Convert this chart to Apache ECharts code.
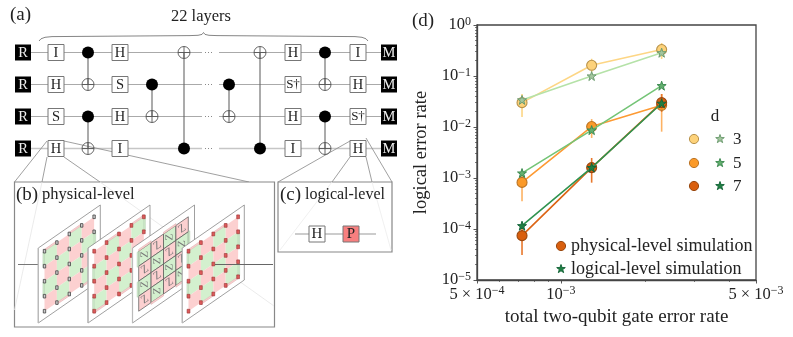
<!DOCTYPE html>
<html>
<head>
<meta charset="utf-8">
<script src="https://cdn.jsdelivr.net/npm/echarts@6/dist/echarts.min.js"></script>
<style>html,body{margin:0;padding:0;background:#fff}#c{width:793px;height:337px}</style>
</head>
<body>
<div id="c"></div>
<script>
// ---------- data: panel (d) ----------
const gateError = [7.25e-4, 1.288e-3, 2.295e-3];
const physD3 = [0.030, 0.162, 0.33];
const physD5 = [8.2e-4, 0.0102, 0.0266];
const physD7 = [7.4e-5, 1.6e-3, 0.030];
const logicD3 = [0.034, 0.100, 0.286];
const logicD5 = [1.25e-3, 0.0087, 0.0646];
const logicD7 = [1.16e-4, 1.6e-3, 0.0292];
const errLowD3 = [0.0157, 0.12, 0.215];
const errHighD3 = [0.0444, 0.218, 0.444];
const errLowD5 = [3.5e-4, 0.0061, 0.0081];
const errHighD5 = [1.31e-3, 0.0143, 0.0444];
const errLowD7 = [3.1e-5, 8.1e-4, 0.0197];
const errHighD7 = [1.2e-4, 2.47e-3, 0.0444];
const xTickValues = [5e-4, 1e-3, 5e-3];
const xTickLabels = ['{n|5 × 10}{s|−4}', '{n|10}{s|−3}', '{n|5 × 10}{s|−3}'];
const xMinorValues = [6e-4, 7e-4, 8e-4, 9e-4, 2e-3, 3e-3, 4e-3];
const yTickValues = [1e-5, 1e-4, 1e-3, 1e-2, 1e-1, 1];
const yTickLabels = ['{n|10}{s|−5}', '{n|10}{s|−4}', '{n|10}{s|−3}', '{n|10}{s|−2}', '{n|10}{s|−1}', '{n|10}{s|0}'];
const yMinorValues = [];
[1e-5, 1e-4, 1e-3, 1e-2, 1e-1].forEach(d => [2, 3, 4, 5, 6, 7, 8, 9].forEach(m => yMinorValues.push(d * m)));
const distances = ['3', '5', '7'];
const legendPhysical = 'physical-level simulation';
const legendLogical = 'logical-level simulation';

// ---------- data: circuit (a) ----------
const firstGates = ['I', 'H', 'S', 'H'];
const secondGates = ['H', 'S', 'H', 'I'];
const thirdGates = ['H', 'S†', 'H', 'I'];
const lastGates = ['I', 'H', 'S†', 'H'];

// ---------- styles ----------
const FONT = '"Liberation Serif", serif';
const STAR = 'path://M50 0L61.8 34.5L97.6 34.5L68.8 56L79.4 90.5L50 69L20.6 90.5L31.2 56L2.4 34.5L38.2 34.5Z';
const STAR_PTS = [[50,0],[61.8,34.5],[97.6,34.5],[68.8,56],[79.4,90.5],[50,69],[20.6,90.5],[31.2,56],[2.4,34.5],[38.2,34.5]];
const physStyle = [
  {line: '#fdd685', fill: '#fdd27a', edge: '#b8924a', err: '#fdd685'},
  {line: '#fd9a33', fill: '#fb9a29', edge: '#bb7425', err: '#fdb263'},
  {line: '#dc6414', fill: '#d95f0e', edge: '#99480f', err: '#e8782c'}
];
const logicStyle = [
  {line: '#b5e2a8', fill: '#a3c69e', edge: '#6d9c70'},
  {line: '#74c476', fill: '#63b06e', edge: '#3c8a50'},
  {line: '#2f9350', fill: '#1f8042', edge: '#16663a'}
];
const physData = [physD3, physD5, physD7];
const logicData = [logicD3, logicD5, logicD7];
const lowData = [errLowD3, errLowD5, errLowD7];
const highData = [errHighD3, errHighD5, errHighD7];

function pairs(ys) { return gateError.map((x, i) => [x, ys[i]]); }

const series = [];
physData.forEach((ys, k) => {
  series.push({
    type: 'custom', z: 2, silent: true,
    data: gateError.map((x, i) => [x, lowData[k][i], highData[k][i]]),
    encode: {x: 0, y: [1, 2]},
    renderItem: (p, api) => {
      const a = api.coord([api.value(0), api.value(1)]);
      const b = api.coord([api.value(0), api.value(2)]);
      return {type: 'line', shape: {x1: a[0], y1: a[1], x2: b[0], y2: b[1]},
        style: {stroke: physStyle[k].err, lineWidth: 1.6}};
    }
  });
});
physData.forEach((ys, k) => {
  series.push({
    type: 'line', z: 3, data: pairs(ys), symbol: 'circle', symbolSize: 10, silent: true,
    lineStyle: {color: physStyle[k].line, width: 1.6},
    itemStyle: {color: physStyle[k].fill, borderColor: physStyle[k].edge, borderWidth: 1.1}
  });
});
logicData.forEach((ys, k) => {
  series.push({
    type: 'line', z: 4, data: pairs(ys), symbol: STAR, symbolSize: 9, silent: true,
    lineStyle: {color: logicStyle[k].line, width: 1.6},
    itemStyle: {color: logicStyle[k].fill, borderColor: logicStyle[k].edge, borderWidth: 1}
  });
});

// ---------- schematic helpers ----------
const g = [];
const GRAY = '#777';
function line(x1, y1, x2, y2, stroke, w) {
  g.push({type: 'line', shape: {x1, y1, x2, y2}, style: {stroke: stroke || GRAY, lineWidth: w || 1}});
}
function rect(x, y, w, h, fill, stroke, lw) {
  g.push({type: 'rect', shape: {x, y, width: w, height: h}, style: {fill, stroke: stroke || null, lineWidth: lw || 1}});
}
function circle(cx, cy, r, fill, stroke, lw) {
  g.push({type: 'circle', shape: {cx, cy, r}, style: {fill, stroke: stroke || null, lineWidth: lw || 1}});
}
function text(x, y, t, size, align, color, rotation) {
  g.push({type: 'text', x, y, rotation: rotation || 0,
    style: {text: t, font: size + 'px ' + FONT, fill: color || '#222', textAlign: align || 'left', textVerticalAlign: 'middle'}});
}
function poly(points, fill, stroke, lw) {
  g.push({type: 'polygon', shape: {points}, style: {fill, stroke: stroke || null, lineWidth: lw || 1}});
}
function star(cx, cy, size, st) {
  const k = size / 100;
  poly(STAR_PTS.map(p => [cx - size / 2 + p[0] * k, cy - size / 2 + p[1] * k]), st.fill, st.edge, 1);
}
function box(cx, cy, label, fill, size) {
  rect(cx - 8, cy - 8, 16, 16, fill || '#fff', '#777', 1);
  text(cx, cy + 0.5, label, size || (label.length > 1 ? 13 : 14.5), 'center', '#222');
}
function term(cx, cy, label) {
  rect(cx - 8, cy - 8, 16, 16, '#000');
  text(cx, cy + 0.5, label, 14.5, 'center', '#eee');
}
function cnot(cx, yc, yt) {
  line(cx, yc, cx, yt, '#666', 1.1);
  circle(cx, yc, 6, '#000');
  circle(cx, yt, 6, 'transparent', '#555', 0.9);
  line(cx - 6, yt, cx + 6, yt, '#555', 0.9);
  line(cx, yt - 6, cx, yt + 6, '#555', 0.9);
}

// ---------- (a) circuit ----------
const wy = [52.5, 84.5, 116.5, 148.5];
wy.forEach((y, i) => {
  const c = i === 3 ? '#c6c6c6' : '#aaa';
  const w = i === 3 ? 1.4 : 1;
  line(31, y, 202, y, c, w);
  line(219, y, 381, y, c, w);
  g.push({type: 'line', shape: {x1: 205, y1: y, x2: 213, y2: y}, style: {stroke: '#888', lineWidth: 1, lineDash: [1, 2]}});
});
// connector lines, (a) to (b) and (c)
[[47, 141, 14.5, 182], [47, 157, 42, 182], [64, 157, 100, 182], [64, 141, 249, 182],
 [350, 141, 278, 182], [350, 157, 332, 182], [366, 157, 372, 182], [366, 138, 392, 182]]
  .forEach(s => line(s[0], s[1], s[2], s[3], '#888', 0.8));
wy.forEach((y, i) => {
  term(23, y, 'R');
  term(389, y, 'M');
  box(56, y, firstGates[i]);
  box(120, y, secondGates[i]);
  box(293, y, thirdGates[i]);
  box(358, y, lastGates[i]);
});
cnot(88, wy[0], wy[1]); cnot(88, wy[2], wy[3]);
cnot(152, wy[1], wy[2]); cnot(229, wy[1], wy[2]);
cnot(184, wy[3], wy[0]); cnot(260, wy[3], wy[0]);
cnot(325, wy[0], wy[1]); cnot(325, wy[2], wy[3]);
g.push({type: 'polyline', shape: {points: [[39, 41], [41, 38.8], [45, 37.3], [52, 36.6], [190, 35.6], [198, 35.3], [202, 34.4], [203.5, 32.5], [205, 34.4], [209, 35.3], [217, 35.6], [355, 36.6], [362, 37.3], [366, 38.8], [368, 41]]},
  style: {fill: 'none', stroke: '#777', lineWidth: 0.9}});
text(10, 15, '(a)', 19);
text(201, 17, '22 layers', 16.5, 'center');

// ---------- (b) physical level ----------
rect(14.5, 182, 260, 145, '#fff', '#888', 1.2);
line(42, 182, 14.5, 310, '#e6e6e6', 0.8);
line(100, 182, 274, 306, '#e6e6e6', 0.8);
text(16, 195, '(b)', 19);
text(42, 195, 'physical-level', 16.5);
line(18, 264.5, 40, 264.5, '#777', 1);

const PW = 62, PH = 75, PS = 43, TOP = 248;
const layerX = [38.3, 88, 132.5, 182.3];
const PINK = '#fcd0d0', GREEN = '#d3f0ce';
function layer(x0, kind, pinkFirst) {
  const P = (u, v) => [x0 + u * PW, TOP - u * PS + v * PH];
  poly([P(0, 0), P(1, 0), P(1, 1), P(0, 1)], '#fff', '#888', 0.8);
  line(x0, TOP, x0, TOP + PH, '#bbb', 1.2);
  const uu = [0.1, 0.3, 0.5, 0.7, 0.9], vv = [0.1, 0.3, 0.5, 0.7, 0.9];
  for (let i = 0; i < 4; i++) for (let j = 0; j < 4; j++) {
    const pink = ((i + j) % 2 === 0) === pinkFirst;
    poly([P(uu[i], vv[j]), P(uu[i + 1], vv[j]), P(uu[i + 1], vv[j + 1]), P(uu[i], vv[j + 1])],
      pink ? PINK : GREEN, kind === 'z' ? '#555' : null, 0.7);
    if (kind === 'z') {
      const c = P((uu[i] + uu[i + 1]) / 2, (vv[j] + vv[j + 1]) / 2);
      text(c[0], c[1], 'Z', 11, 'center', '#777', pink ? 0.6 : 1.57);
    }
  }
  // thin boundary half-plaquettes
  for (let i = 0; i < 4; i++) {
    const alt = pinkFirst ? i % 2 === 1 : i % 2 === 0;
    if (alt) {
      poly([P(uu[i], 0.1), P(uu[i + 1], 0.1), P(uu[i + 1], 0.075), P(uu[i], 0.075)], PINK, '#c99', 0.4);
      poly([P(uu[3 - i], 0.9), P(uu[4 - i], 0.9), P(uu[4 - i], 0.925), P(uu[3 - i], 0.925)], PINK, '#c99', 0.4);
      poly([P(0.1, vv[i]), P(0.1, vv[i + 1]), P(0.075, vv[i + 1]), P(0.075, vv[i])], GREEN, '#9b9', 0.4);
      poly([P(0.9, vv[3 - i]), P(0.9, vv[4 - i]), P(0.925, vv[4 - i]), P(0.925, vv[3 - i])], GREEN, '#9b9', 0.4);
    }
  }
  if (kind !== 'z') {
    uu.forEach(u => vv.forEach(v => {
      const c = P(u, v);
      if (kind === 'x') {
        rect(c[0] - 1.2, c[1] - 1.8, 2.4, 3.6, '#ccc', '#444', 0.8);
      } else {
        rect(c[0] - 1.4, c[1] - 1.9, 2.8, 3.8, '#dd5a5a', '#933', 0.6);
      }
    }));
  }
}
layer(layerX[0], 'x', false);
layer(layerX[1], 'r', true);
layer(layerX[2], 'z', false);
layer(layerX[3], 'r', false);
line(215, 264.5, 273, 264.5, '#666', 1);

// ---------- (c) logical level ----------
rect(278, 182, 114, 70, '#fff', '#888', 1.2);
line(332, 182, 280, 250, '#ececec', 0.8);
line(372, 182, 391, 250, '#ececec', 0.8);
text(280, 195, '(c)', 19);
text(305, 195, 'logical-level', 16);
line(295, 234, 376, 234, '#999', 1);
box(317, 234, 'H', '#fff', 15);
box(351, 234, 'P', '#f87f7f', 15);

// ---------- (d) key ----------
text(412, 21, '(d)', 19);
text(715, 116.5, 'd', 17, 'center');
const keyY = [139, 163, 186];
distances.forEach((d, i) => {
  circle(694, keyY[i], 4.6, physStyle[i].fill, physStyle[i].edge, 1);
  star(720, keyY[i], 9, logicStyle[i]);
  text(733, keyY[i] + 0.5, d, 17);
});
circle(561, 246, 4.6, physStyle[2].fill, physStyle[2].edge, 1);
text(571, 246, legendPhysical, 18);
star(561, 269, 9, logicStyle[2]);
text(571, 269, legendLogical, 18);

const rich = {
  n: {fontFamily: FONT, fontSize: 16.5, color: '#222'},
  s: {fontFamily: FONT, fontSize: 12, color: '#222', padding: [0, 0, 7, 0]}
};
const near = (a, b) => Math.abs(Math.log10(a) - Math.log10(b)) < 1e-6;
const axisCommon = {type: 'log', logBase: 10, splitLine: {show: false}, minorTick: {show: false}, minorSplitLine: {show: false}};

const option = {
  animation: false,
  backgroundColor: '#fff',
  textStyle: {fontFamily: FONT},
  grid: {left: 477, right: 37, top: 25, bottom: 57, show: true, borderColor: '#444', borderWidth: 1.3, backgroundColor: 'transparent'},
  xAxis: [
    Object.assign({}, axisCommon, {
      position: 'bottom', min: 5e-4, max: 5e-3,
      name: 'total two-qubit gate error rate', nameLocation: 'middle', nameGap: 27,
      nameTextStyle: {fontFamily: FONT, fontSize: 19, color: '#222'},
      axisLine: {show: true, lineStyle: {color: '#444', width: 1.3}},
      axisTick: {show: true, length: 3.5, customValues: xTickValues, lineStyle: {color: '#444', width: 0.9}},
      axisLabel: {show: true, margin: 5, customValues: xTickValues, rich, hideOverlap: false,
        formatter: v => xTickLabels[xTickValues.findIndex(t => near(t, v))] || ''}
    }),
    Object.assign({}, axisCommon, {
      position: 'bottom', min: 5e-4, max: 5e-3,
      axisLine: {show: false},
      axisTick: {show: true, length: 2, customValues: xMinorValues, lineStyle: {color: '#444', width: 0.7}},
      axisLabel: {show: false}
    })
  ],
  yAxis: [
    Object.assign({}, axisCommon, {
      position: 'left', min: 1e-5, max: 1,
      name: 'logical error rate', nameLocation: 'middle', nameGap: 46,
      nameTextStyle: {fontFamily: FONT, fontSize: 18.5, color: '#222'},
      axisLine: {show: true, lineStyle: {color: '#444', width: 1.3}},
      axisTick: {show: true, length: 3.5, customValues: yTickValues, lineStyle: {color: '#444', width: 0.9}},
      axisLabel: {show: true, margin: 6, customValues: yTickValues, rich, hideOverlap: false,
        formatter: v => yTickLabels[yTickValues.findIndex(t => near(t, v))] || ''}
    }),
    Object.assign({}, axisCommon, {
      position: 'left', min: 1e-5, max: 1,
      axisLine: {show: false},
      axisTick: {show: true, length: 2, customValues: yMinorValues, lineStyle: {color: '#444', width: 0.7}},
      axisLabel: {show: false}
    })
  ],
  series,
  graphic: {elements: g}
};
const chart = echarts.init(document.getElementById('c'), null, {renderer: 'canvas'});
chart.setOption(option);
</script>
</body>
</html>
